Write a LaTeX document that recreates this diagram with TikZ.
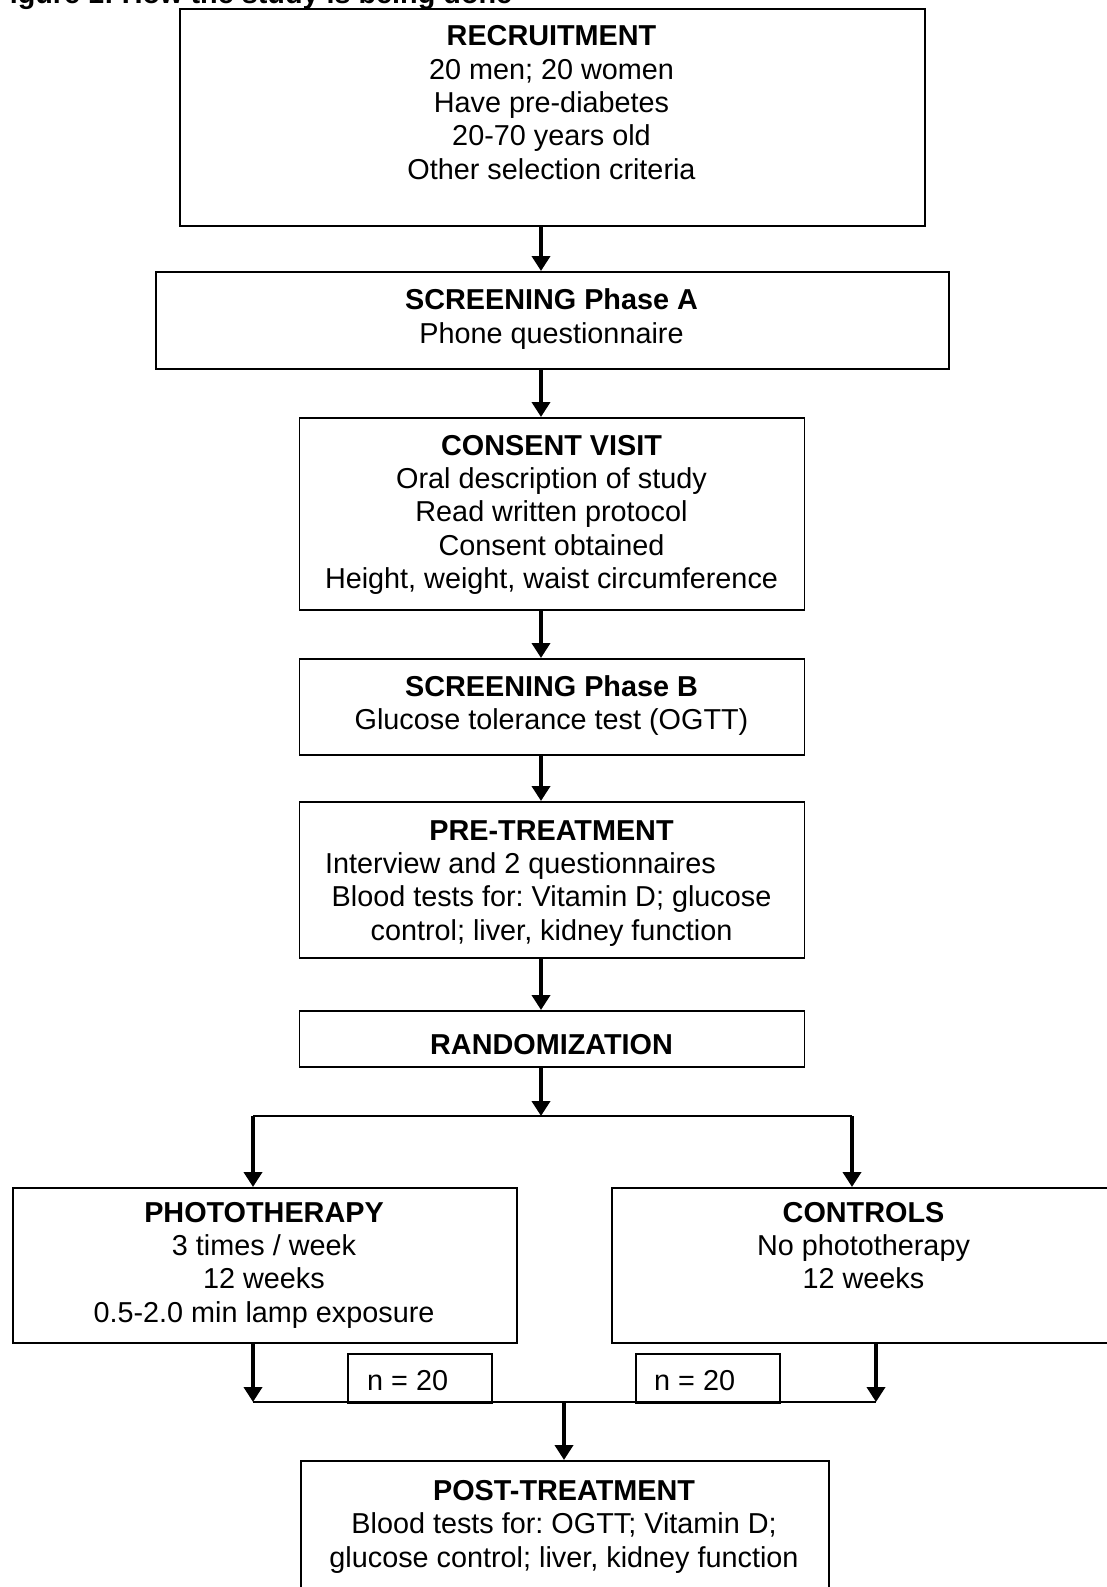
\documentclass[tikz,border=0pt]{standalone}
\usepackage{fontspec}
\setmainfont{Liberation Sans}
\usetikzlibrary{arrows.meta}
\frenchspacing
\begin{document}
\begin{tikzpicture}[x=1pt,y=-1pt,
  box/.style={draw, line width=1.6pt, inner sep=0pt, anchor=north west},
  txt/.style={inner sep=0pt, align=center, anchor=north, font=\fontsize{28.8}{33.4}\selectfont\frenchspacing},
  ntxt/.style={inner sep=0pt, anchor=base west, font=\fontsize{28.8}{33.4}\selectfont},
  arr/.style={line width=4.4pt, -{Triangle[width=18pt,length=15pt]}},
  joinline/.style={line width=1.8pt}]
\useasboundingbox (0,0) rectangle (1106,1587);

% title (cut at the top of the picture)
\node[ntxt, font=\fontsize{28.8}{33.4}\selectfont\bfseries] (title) at (-8,3.5) {Figure 1: How the study is being done};

% boxes
\node[box, minimum width=745pt, minimum height=217pt] (rec) at (179,8) {};
\node[box, minimum width=793pt, minimum height=97pt] (scrA) at (155,271) {};
\node[box, minimum width=505pt, minimum height=192pt] (cons) at (298.5,417) {};
\node[box, minimum width=505pt, minimum height=96pt] (scrB) at (298.5,658) {};
\node[box, minimum width=505pt, minimum height=156pt] (pre) at (298.5,801) {};
\node[box, minimum width=505pt, minimum height=56pt] (rand) at (298.5,1010) {};
\node[box, minimum width=504pt, minimum height=155pt] (photo) at (12,1187) {};
\node[box, minimum width=505pt, minimum height=155pt] (ctrl) at (611,1187) {};
\node[box, minimum width=144pt, minimum height=49pt] (n1) at (347,1353) {};
\node[box, minimum width=144pt, minimum height=49pt] (n2) at (635,1353) {};
\node[box, minimum width=528pt, minimum height=170pt] (post) at (300,1460) {};

% texts
\node[txt] (recT) at (551.5,22.1) {\strut\textbf{RECRUITMENT}\\20 men; 20 women\\Have pre-diabetes\\20-70 years old\\Other selection criteria};
\node[txt] (scrAT) at (551.5,286.3) {\strut\textbf{SCREENING Phase A}\\Phone questionnaire};
\node[txt] (consT) at (551.5,431.6) {\strut\textbf{CONSENT VISIT}\\Oral description of study\\Read written protocol\\Consent obtained\\Height, weight, waist circumference};
\node[txt] (scrBT) at (551.5,672.6) {\strut\textbf{SCREENING Phase B}\\Glucose tolerance test (OGTT)};
\node[txt] (preT) at (551.5,816.6) {\strut\textbf{PRE-TREATMENT}\\Interview and 2 questionnaires\rule{62pt}{0pt}\\Blood tests for: Vitamin D; glucose\\control; liver, kidney function};
\node[txt] (randT) at (551.5,1031.1) {\strut\textbf{RANDOMIZATION}};
\node[txt] (photoT) at (264,1198.6) {\strut\textbf{PHOTOTHERAPY}\\3 times / week\\12 weeks\\0.5-2.0 min lamp exposure};
\node[txt] (ctrlT) at (863.5,1198.6) {\strut\textbf{CONTROLS}\\No phototherapy\\12 weeks};
\node[ntxt] (n1T) at (367,1390) {n = 20};
\node[ntxt] (n2T) at (654,1390) {n = 20};
\node[txt] (postT) at (564,1476.6) {\strut\textbf{POST-TREATMENT}\\Blood tests for: OGTT; Vitamin D;\\glucose control; liver, kidney function};

% connector coordinates
\coordinate (ax) at (541,0);
\coordinate (split) at (541,1116);
\coordinate (splitL) at (253,1116);
\coordinate (splitR) at (852,1116);
\coordinate (joinL) at (253,1402);
\coordinate (joinR) at (876,1402);
\coordinate (join) at (564,1402);

% connectors
\draw[arr] (rec.south -| ax) -- (scrA.north -| ax);
\draw[arr] (scrA.south -| ax) -- (cons.north -| ax);
\draw[arr] (cons.south -| ax) -- (scrB.north -| ax);
\draw[arr] (scrB.south -| ax) -- (pre.north -| ax);
\draw[arr] (pre.south -| ax) -- (rand.north -| ax);
\draw[arr] (rand.south -| ax) -- (split);
\draw[joinline] (splitL) -- (splitR);
\draw[arr] (splitL) -- (photo.north -| splitL);
\draw[arr] (splitR) -- (ctrl.north -| splitR);
\draw[arr] (photo.south -| joinL) -- (joinL);
\draw[arr] (ctrl.south -| joinR) -- (joinR);
\draw[joinline] (joinL) -- (joinR);
\draw[arr] (join) -- (post.north -| join);
\end{tikzpicture}
\end{document}
